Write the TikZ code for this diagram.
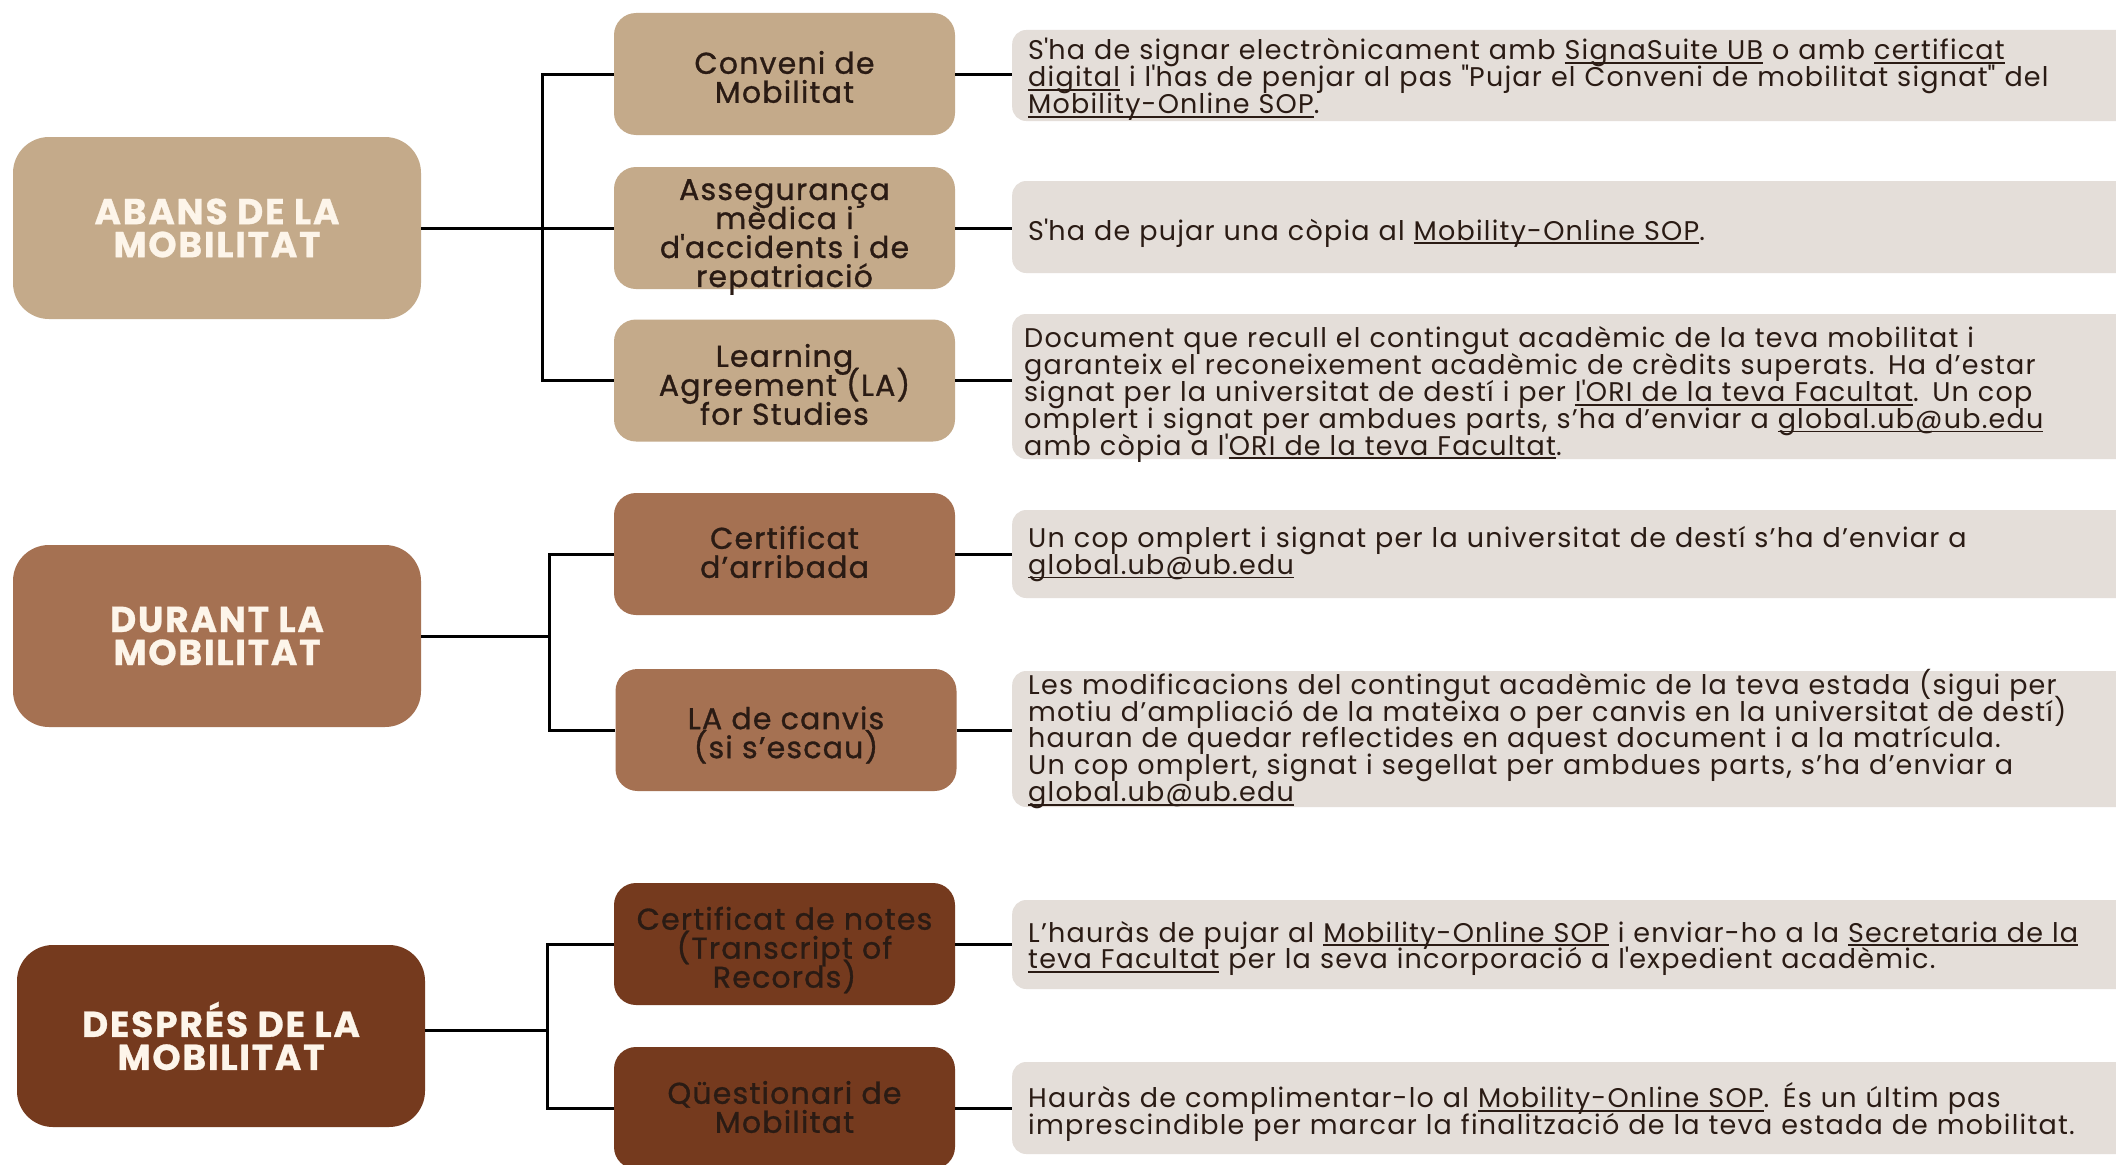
\documentclass[tikz,border=0pt]{standalone}
\usepackage{fontspec}
\setmainfont{Poppins}
\definecolor{cA}{HTML}{C4AA8A}
\definecolor{cB}{HTML}{A57152}
\definecolor{cC}{HTML}{753A1E}
\definecolor{tbg}{HTML}{E4DED9}
\definecolor{hdr}{HTML}{FDF5EA}
\definecolor{ink}{HTML}{2A1B14}
\newcommand\ulk[1]{\leavevmode\setbox0\hbox{#1}\rlap{\rule[-4pt]{\wd0}{1.8pt}}\box0\relax}
\newcommand\sap{{\addfontfeature{Ligatures=TeXOff}'}}
\newcommand\sqt{{\addfontfeature{Ligatures=TeXOff}"}}
\tikzset{
  headbox/.style={rounded corners=36pt, minimum width=408pt, minimum height=182pt,
    text=hdr, font={\fontsize{36}{33}\selectfont\bfseries\addfontfeature{LetterSpace=5,FakeBold=0.8}}, align=center, inner sep=0pt},
  subbox/.style={rounded corners=22pt, minimum width=341pt, minimum height=122pt, inner sep=0pt},
  subtext/.style={text=ink, font={\fontsize{30}{29}\selectfont\addfontfeature{LetterSpace=4,FakeBold=1}}, align=center, inner sep=0pt},
  infobox/.style={fill=tbg, rounded corners=14pt, minimum width=1130pt, inner sep=0pt, anchor=west},
  infotext/.style={text width=1098pt, inner sep=0pt, align=left, anchor=west,
    font={\fontsize{27}{26.8}\selectfont\addfontfeature{LetterSpace=4.5}}, text=ink,
    execute at begin node={\baselineskip=26.8pt\lineskiplimit=-100pt\lineskip=0pt}},
  link/.style={line width=3pt, black},
}
\begin{document}
\begin{tikzpicture}[x=1pt,y=-1pt]
\lineskiplimit=-100pt\lineskip=0pt
\clip (0,0) rectangle (2116,1164);
\fill[white] (0,0) rectangle (2116,1164);
% headers
\node[headbox, fill=cA] (h1) at (217,228) {ABANS DE LA\\MOBILITAT};
\node[headbox, fill=cB] (h2) at (217,636) {DURANT LA\\MOBILITAT};
\node[headbox, fill=cC] (h3) at (221,1036) {DESPRÉS DE LA\\MOBILITAT};
% sub boxes
\node[subbox, fill=cA] (s11) at (784.5,74) {};
\node[subbox, fill=cA] (s12) at (784.5,228) {};
\node[subbox, fill=cA] (s13) at (784.5,380.5) {};
\node[subbox, fill=cB] (s21) at (784.5,554) {};
\node[subbox, fill=cB] (s22) at (786,730) {};
\node[subbox, fill=cC] (s31) at (784.5,944) {};
\node[subbox, fill=cC] (s32) at (784.5,1108) {};
\node[subtext] (s11t) at ([yshift=-3pt]s11.center) {Conveni de\\Mobilitat};
\node[subtext] (s12t) at ([yshift=-9pt]s12.center) {Assegurança\\mèdica i\\d\sap accidents i de\\repatriació};
\node[subtext] (s13t) at ([yshift=-4pt]s13.center) {Learning\\Agreement (LA)\\for Studies};
\node[subtext] (s21t) at ([yshift=2pt]s21.center) {Certificat\\d’arribada};
\node[subtext] (s22t) at ([yshift=-5pt]s22.center) {LA de canvis\\(si s’escau)};
\node[subtext] (s31t) at ([yshift=-6pt]s31.center) {Certificat de notes\\(Transcript of\\Records)};
\node[subtext] (s32t) at ([yshift=1pt]s32.center) {Qüestionari de\\Mobilitat};
% info boxes
\node[infobox, minimum height=91pt] (t11) at (1012,75.5) {};
\node[infobox, minimum height=92pt] (t12) at (1012,227) {};
\node[infobox, minimum height=145pt] (t13) at (1012,386.5) {};
\node[infobox, minimum height=88pt] (t21) at (1012,554) {};
\node[infobox, minimum height=136pt] (t22) at (1012,739) {};
\node[infobox, minimum height=89pt] (t31) at (1012,944.5) {};
\node[infobox, minimum height=92pt] (t32) at (1012,1108) {};
\node[infotext] (t11t) at ([xshift=16pt,yshift=-4pt]t11.west) {S\sap ha de signar electrònicament amb \ulk{SignaSuite UB} o amb \ulk{certificat}\\
\ulk{digital} i l\sap has de penjar al pas \sqt Pujar el Conveni de mobilitat signat\sqt{} del\\
\ulk{Mobility-Online SOP}.};
\node[infotext] (t12t) at ([xshift=16pt,yshift=-6pt]t12.west) {S\sap ha de pujar una còpia al \ulk{Mobility-Online SOP}.};
\node[infotext] (t13t) at ([xshift=12pt,yshift=-8pt]t13.west) {Document que recull el contingut acadèmic de la teva mobilitat i\\
garanteix el reconeixement acadèmic de crèdits superats. Ha d’estar\\
signat per la universitat de destí i per \ulk{l\sap ORI de la teva Facultat}. Un cop\\
omplert i signat per ambdues parts, s’ha d’enviar a \ulk{global.ub@ub.edu}\\
amb còpia a l\sap\ulk{ORI de la teva Facultat}.};
\node[infotext] (t21t) at ([xshift=16pt]t21.west) {Un cop omplert i signat per la universitat de destí s’ha d’enviar a\\
\ulk{global.ub@ub.edu}};
\node[infotext] (t22t) at ([xshift=16pt]t22.west) {Les modificacions del contingut acadèmic de la teva estada (sigui per\\
motiu d’ampliació de la mateixa o per canvis en la universitat de destí)\\
hauran de quedar reflectides en aquest document i a la matrícula.\\
Un cop omplert, signat i segellat per ambdues parts, s’ha d’enviar a\\
\ulk{global.ub@ub.edu}};
\node[infotext] (t31t) at ([xshift=16pt,yshift=-4pt]t31.west) {L’hauràs de pujar al \ulk{Mobility-Online SOP} i enviar-ho a la \ulk{Secretaria de la}\\
\ulk{teva Facultat} per la seva incorporació a l\sap expedient acadèmic.};
\node[infotext] (t32t) at ([xshift=16pt,yshift=-4pt]t32.west) {Hauràs de complimentar-lo al \ulk{Mobility-Online SOP}. És un últim pas\\
imprescindible per marcar la finalització de la teva estada de mobilitat.};
% junctions
\coordinate (j1) at (542,228);
\coordinate (j2) at (549,636);
\coordinate (j3) at (547,1030);
% connectors group 1
\draw[link] (h1) -- (s12);
\draw[link] (s11.west) -| (j1) |- (s13.west);
% group 2
\draw[link] (h2) -- (j2);
\draw[link] (s21.west) -| (j2) |- (s22.west);
% group 3
\draw[link] (j3 -| h3.east) -- (j3);
\draw[link] (s31.west) -| (j3) |- (s32.west);
% right connectors
\foreach \s/\t in {s11/t11, s12/t12, s13/t13, s21/t21, s22/t22, s31/t31, s32/t32}
  \draw[link] (\s.east) -- (\s.east -| \t.west);
\end{tikzpicture}
\end{document}
